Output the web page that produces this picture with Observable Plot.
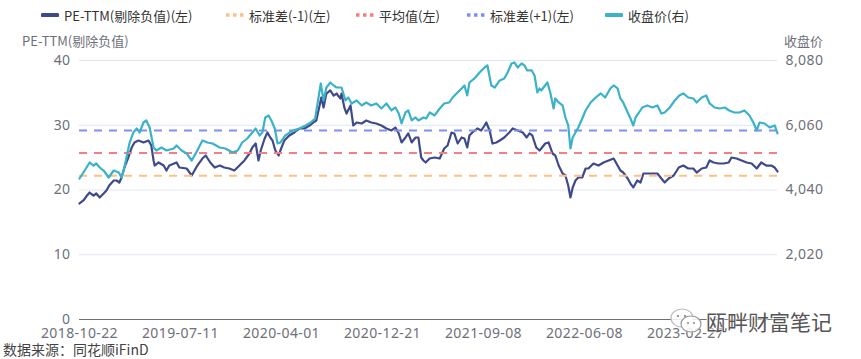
<!DOCTYPE html>
<html><head><meta charset="utf-8">
<script src="https://cdn.jsdelivr.net/npm/d3@7"></script>
<script src="https://cdn.jsdelivr.net/npm/@observablehq/plot@0.6"></script>
<style>
body{margin:0;background:#fff;font-family:"Noto Sans CJK SC","Noto Sans",sans-serif;}
#wrap{position:relative;width:861px;height:359px;overflow:hidden;background:#fff;}
.lg{position:absolute;top:6px;height:18px;display:flex;align-items:center;font-size:13px;color:#333;white-space:nowrap;}
.lg svg{margin-right:5px;}
.ttl{position:absolute;top:31px;font-size:13px;color:#6E7079;white-space:nowrap;}
#chart{position:absolute;left:0;top:30px;}
#chart svg text{letter-spacing:0.4px;}
#cap{position:absolute;left:3px;top:342px;font-size:14px;line-height:15px;color:#444;white-space:nowrap;}
#wm{position:absolute;left:668px;top:306px;display:flex;align-items:center;font-size:21px;color:#555;white-space:nowrap;
 text-shadow:0 0 2px #fff,0 0 2px #fff,0 0 2px #fff;}
</style></head><body>
<div id="wrap">
  <div id="legend"></div>
  <div class="ttl" id="tl" style="left:22px">PE-TTM(剔除负值)</div>
  <div class="ttl" id="tr" style="left:784px">收盘价</div>
  <div id="chart"></div>
  <div id="cap">数据来源：同花顺iFinD</div>
  <div id="wm"><svg width="38" height="28" viewBox="0 0 36 28"><ellipse cx="13" cy="11" rx="11" ry="9" fill="#fff" fill-opacity="0.85" stroke="#bbb" stroke-width="1.2"/><ellipse cx="22" cy="17" rx="10" ry="8" fill="#fff" fill-opacity="0.85" stroke="#999" stroke-width="1.2"/><circle cx="9" cy="9" r="1.2" fill="#999"/><circle cx="16" cy="9" r="1.2" fill="#999"/><circle cx="19" cy="16" r="1" fill="#888"/><circle cx="25" cy="16" r="1" fill="#888"/></svg><span>瓯畔财富笔记</span></div>
</div>
<script>
// ---- data ----
const peDay = [0,7,12,18,25,30,36,43,48,53,61,66,71,75,80,87,93,98,105,114,123,128,132,134,141,150,155,160,173,178,191,200,210,219,225,233,241,250,258,267,276,285,294,303,308,314,319,323,330,335,340,344,349,355,358,365,374,383,392,401,410,417,422,431,435,440,447,453,458,465,467,472,476,483,488,494,503,511,520,529,538,547,556,563,569,574,581,586,592,599,604,609,613,617,624,633,642,650,656,663,668,674,681,686,691,695,700,709,716,722,725,731,736,743,749,757,766,772,781,790,797,802,807,814,820,823,830,836,843,848,854,861,866,871,875,879,884,889,896,902,907,916,925,934,943,952,959,964,969,977,982,987,994,1000,1005,1014,1023,1030,1037,1043,1050,1059,1068,1076,1085,1094,1100,1109,1117,1123,1130,1139,1148,1157,1162,1171,1180,1189,1198,1207,1215,1224,1233,1239,1244];
const peVal = [17.92,18.38,18.99,19.61,19.15,19.46,18.84,19.46,19.92,20.70,21.47,21.47,21.16,21.93,23.47,25.02,26.56,27.34,27.64,27.34,27.64,26.87,24.56,23.78,24.25,23.78,23.01,23.78,24.25,23.47,23.32,22.24,23.78,24.86,25.33,24.25,23.47,23.78,23.47,23.32,23.01,23.78,24.56,25.64,26.56,27.18,24.56,26.10,27.95,28.88,28.11,27.64,26.10,25.33,26.10,27.64,28.42,28.88,29.50,29.50,29.96,30.43,30.73,34.29,32.74,34.90,35.37,34.59,34.90,34.13,34.90,32.74,31.81,33.05,29.96,30.43,30.27,30.73,30.43,30.27,29.96,29.50,29.19,29.65,28.73,27.34,28.11,28.73,27.34,28.11,28.11,25.02,24.56,24.25,24.86,25.02,24.86,26.41,26.87,28.88,28.73,27.18,28.11,27.95,26.56,28.42,28.88,29.50,29.19,29.96,30.43,29.19,27.18,27.34,27.64,28.11,28.88,29.50,29.19,28.88,28.11,28.73,28.42,26.56,26.10,26.41,27.18,27.34,25.64,25.33,23.78,22.55,22.24,20.70,18.84,20.39,21.47,21.93,21.93,23.32,23.32,24.09,23.78,24.25,24.56,24.86,23.78,23.01,22.70,21.78,21.00,20.39,21.47,21.16,22.55,22.55,22.55,22.55,21.78,21.16,21.78,22.24,23.47,23.78,23.32,23.32,22.70,23.32,23.47,24.56,24.25,24.09,24.09,24.25,25.02,24.86,24.56,24.25,24.09,23.32,24.25,23.78,23.78,23.47,22.86];
const closeDay = [0,7,18,25,30,36,43,52,61,70,75,80,89,96,102,107,114,119,125,132,137,146,155,168,173,182,191,200,210,219,228,237,250,260,273,282,290,299,308,314,321,326,331,337,342,348,353,358,367,380,392,403,412,420,430,435,440,447,453,458,467,474,479,485,494,503,511,520,529,538,547,556,563,569,574,581,586,592,599,604,613,618,624,633,642,650,659,665,672,681,686,691,695,704,713,722,727,734,740,749,757,763,770,775,781,788,793,798,806,811,816,820,823,827,834,839,845,848,854,861,866,871,875,879,884,889,896,902,911,920,929,937,946,952,959,964,969,977,982,987,991,996,1003,1012,1021,1030,1037,1043,1052,1061,1069,1076,1085,1094,1100,1109,1117,1123,1132,1141,1150,1158,1167,1176,1185,1194,1201,1207,1212,1221,1230,1239,1244];
const closeVal = [4399,4586,4898,4804,4867,4742,4648,4430,4648,4586,4430,4742,5491,5834,5959,5834,6146,6208,5990,5366,5272,5366,5272,5335,5428,5272,5179,4960,5272,5585,5522,5491,5366,5335,5210,5272,5522,5647,5834,5959,5741,5834,6302,6365,6208,5959,5491,5522,5741,5897,5959,6053,6146,6271,7363,6833,7238,7394,7301,7238,7238,6833,6926,6739,6833,6677,6770,6677,6739,6583,6739,6521,6614,6427,6115,6458,6521,6209,6302,6209,6302,6271,6458,6365,6583,6739,6770,6926,7051,7207,7301,6989,7394,7519,7706,7862,7925,7301,7238,7457,7519,7706,7987,8018,7862,7987,7925,7769,7769,7613,7082,7207,7145,7238,7394,7082,6583,6895,6770,6677,6302,6053,5335,5678,5834,5990,6271,6521,6770,6926,7051,6926,7207,7301,7207,6895,6770,6458,6271,6053,6302,6427,6614,6677,6614,6677,6427,6458,6614,6833,6989,7051,6926,6895,6770,6926,6989,6739,6614,6583,6614,6521,6458,6458,6521,6365,6146,5897,6146,6115,5990,6053,5803];
const refNames = ["标准差(-1)(左)","平均值(左)","标准差(+1)(左)"];
const refValues = [22.2, 25.7, 29.2];
const seriesNames = ["PE-TTM(剔除负值)(左)","收盘价(右)"];
const xTickDays = [0,180,360,540,720,900,1080];
const xTickLabels = ["2018-10-22","2019-07-11","2020-04-01","2020-12-21","2021-09-08","2022-06-08","2023-02-27"];
const leftTicks = [0,10,20,30,40];
const rightTicks = [2020,4040,6060,8080];
const rightMax = 8080, leftMax = 40, lastDay = 1244;

// ---- styles ----
const cPE = "#3f4a8c", cClose = "#3bb2c8";
const refColors = ["#fcc088","#f57f7f","#7e8ef6"];

const K = rightMax / leftMax;
const pe = peDay.map((d,i)=>({day:d, v:peVal[i]}));
const close = closeDay.map((d,i)=>({day:d, v:closeVal[i]}));
const refs = refValues.map((v,i)=>({v, c:refColors[i], name:refNames[i]}));

const chart = Plot.plot({
  width:861, height:311,
  marginTop:30, marginBottom:22, marginLeft:79, marginRight:84,
  style:{fontFamily:'"Noto Sans","Noto Sans CJK SC",sans-serif', fontSize:"14px", color:"#6E7079", background:"transparent", overflow:"visible"},
  x:{domain:[0,lastDay], axis:null},
  y:{domain:[0,leftMax], axis:null},
  marks:[
    Plot.gridY(leftTicks.filter(d=>d>0), {stroke:"#E0E6F1", strokeOpacity:1, strokeWidth:1}),
    Plot.axisY({ticks:leftTicks, tickSize:0, tickPadding:9, label:null, fill:"#6E7079"}),
    Plot.axisY({anchor:"right", ticks:rightTicks.map(v=>v/K), tickFormat:d=>d3.format(",")(Math.round(d*K)), tickSize:0, tickPadding:8, label:null, fill:"#6E7079"}),
    Plot.axisX({ticks:xTickDays, tickFormat:d=>xTickLabels[xTickDays.indexOf(d)], tickSize:0, tickPadding:9, label:null, fill:"#6E7079"}),
    Plot.line(pe, {x:"day", y:"v", stroke:cPE, strokeWidth:2.2, strokeLinejoin:"round"}),
    Plot.ruleY(refs, {y:"v", stroke:"c", strokeWidth:2, strokeDasharray:"8,7"}),
    Plot.line(close, {x:"day", y:d=>d.v/K, stroke:cClose, strokeWidth:2.2, strokeLinejoin:"round"}),
    Plot.ruleY([0], {stroke:"#6E7079", strokeWidth:1})
  ]
});
document.getElementById("chart").appendChild(chart);

// ---- legend ----
const legendItems = [
  {name:seriesNames[0], color:cPE, dotted:false},
  {name:refNames[0], color:refColors[0], dotted:true},
  {name:refNames[1], color:refColors[1], dotted:true},
  {name:refNames[2], color:refColors[2], dotted:true},
  {name:seriesNames[1], color:cClose, dotted:false}
];
const legendLeft = [41,226,356,467,605];
const lg = document.getElementById("legend");
legendItems.forEach((it,i)=>{
  const d = document.createElement("div");
  d.className = "lg";
  d.style.left = legendLeft[i] + "px";
  const icon = it.dotted
    ? `<svg width="18" height="6"><line x1="0" y1="3" x2="18" y2="3" stroke="${it.color}" stroke-width="3.5" stroke-dasharray="3.5,3.5"/></svg>`
    : `<svg width="18" height="6"><line x1="1.5" y1="3" x2="16.5" y2="3" stroke="${it.color}" stroke-width="4" stroke-linecap="round"/></svg>`;
  d.innerHTML = icon + `<span>${it.name}</span>`;
  lg.appendChild(d);
});
</script>
</body></html>
